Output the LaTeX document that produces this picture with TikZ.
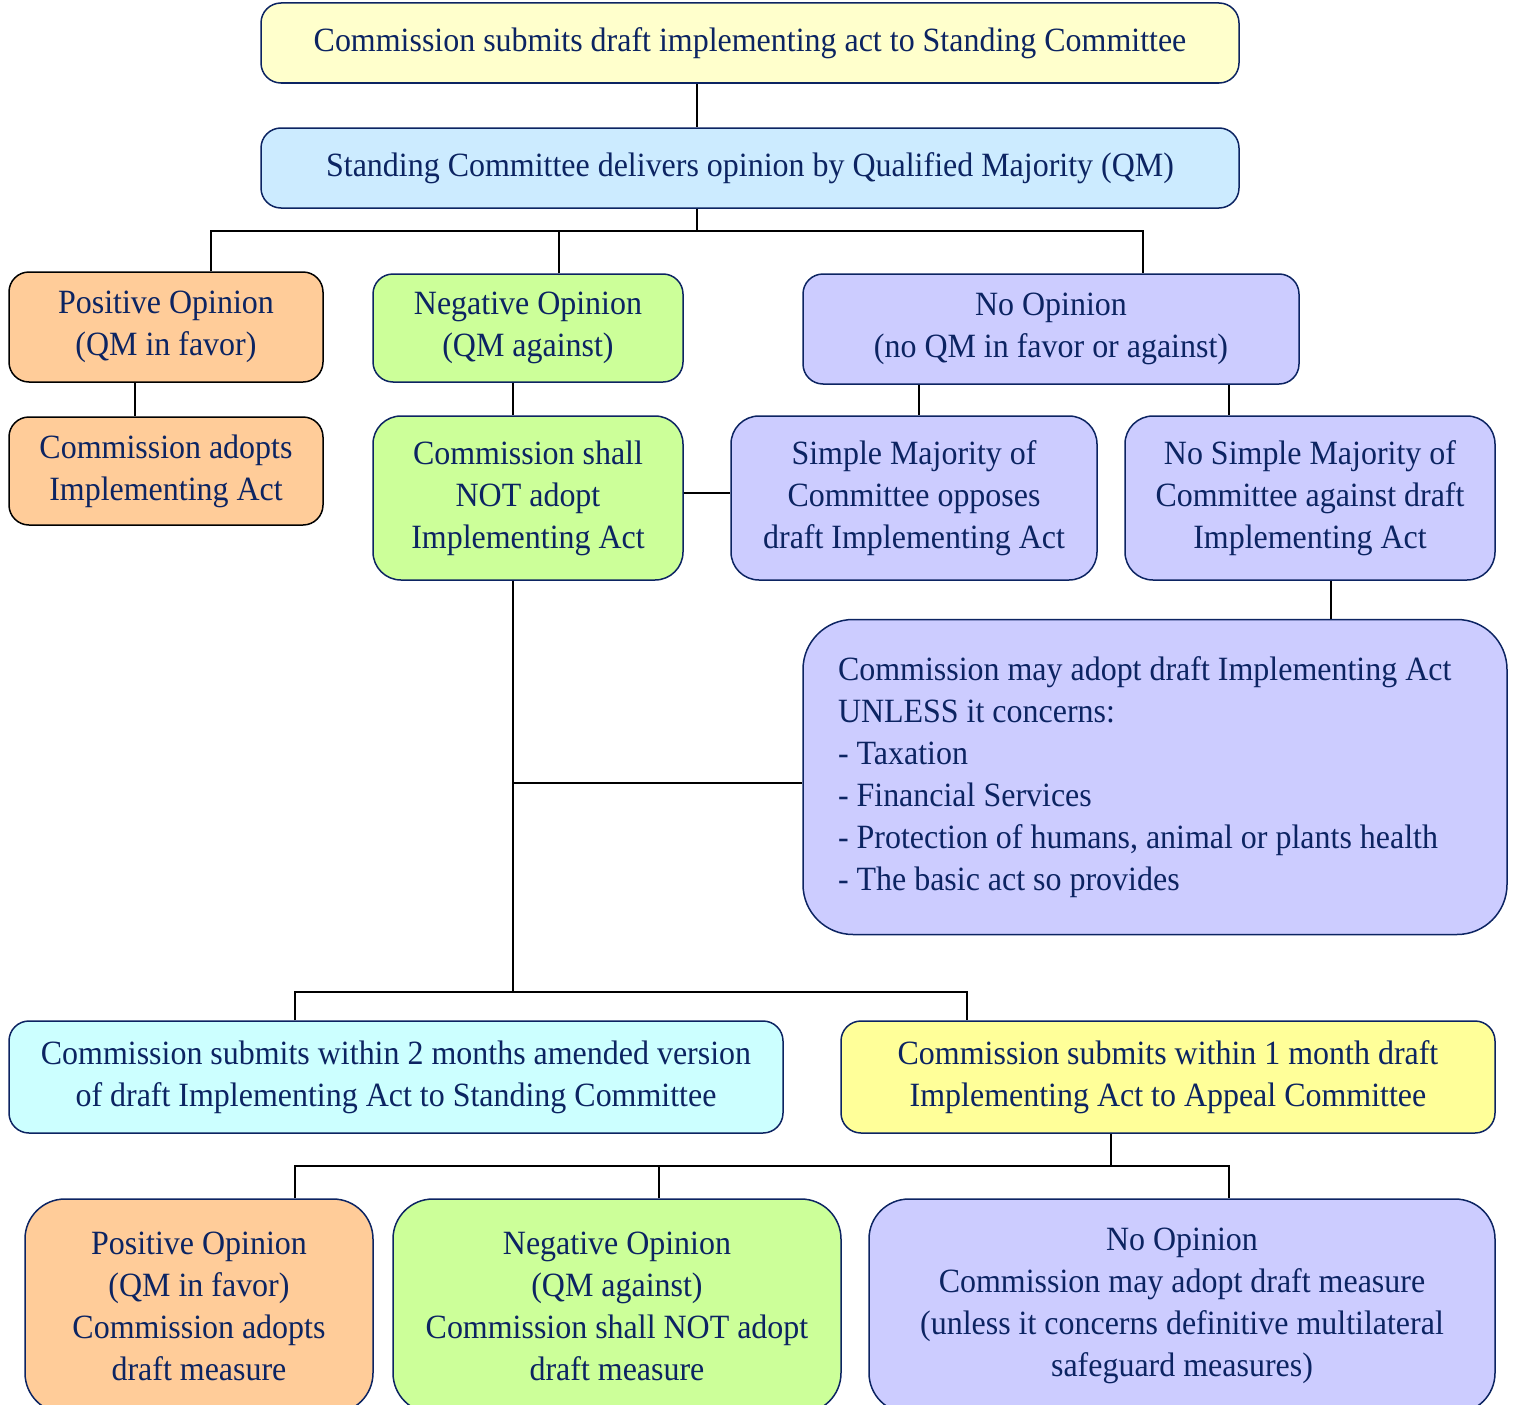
\documentclass[tikz,border=0pt]{standalone}
\usepackage{fontspec}
\setmainfont{Liberation Serif}[FakeStretch=0.94]
\usepackage{xcolor}
\definecolor{navy}{RGB}{12,36,98}
\definecolor{paleyellow}{HTML}{FFFFCC}
\definecolor{paleblue}{HTML}{CCEBFF}
\definecolor{paleorange}{HTML}{FFCC99}
\definecolor{palegreen}{HTML}{CCFF99}
\definecolor{palelilac}{HTML}{CCCCFF}
\definecolor{palecyan}{HTML}{CCFFFF}
\definecolor{lemon}{HTML}{FFFF99}
\tikzset{
  box/.style={draw=navy, line width=1.5pt, rounded corners=20pt, text=navy,
    align=center, inner sep=0pt, font=\fontsize{34}{42}\selectfont},
  link/.style={black, line width=1.5pt}
}

\begin{document}
\begin{tikzpicture}[x=1pt, y=-1pt]
\useasboundingbox (0,0) rectangle (1518,1405);
\node[box, fill=paleyellow, minimum width=978, minimum height=80] (top) at (750,43)
  {Commission submits draft implementing act to Standing Committee};
\node[box, fill=paleblue, minimum width=978, minimum height=80] (stand) at (750,168)
  {Standing Committee delivers opinion by Qualified Majority (QM)};
\node[box, draw=black, fill=paleorange, minimum width=314, minimum height=110] (pos1) at (166,327)
  {Positive Opinion\\(QM in favor)};
\node[box, fill=palegreen, minimum width=310, minimum height=108] (neg1) at (528,328)
  {Negative Opinion\\(QM against)};
\node[box, fill=palelilac, minimum width=496, minimum height=110] (noop1) at (1051,329)
  {No Opinion\\(no QM in favor or against)};
\node[box, draw=black, fill=paleorange, minimum width=314, minimum height=108] (posadopt) at (166,471)
  {Commission adopts\\Implementing Act};
\node[box, fill=palegreen, minimum width=310, minimum height=164, rounded corners=28pt] (negnot) at (528,498)
  {Commission shall\\NOT adopt\\Implementing Act};
\node[box, fill=palelilac, minimum width=366, minimum height=164, rounded corners=28pt] (simple) at (914,498)
  {Simple Majority of\\Committee opposes\\draft Implementing Act};
\node[box, fill=palelilac, minimum width=370, minimum height=164, rounded corners=28pt] (nosimple) at (1310,498)
  {No Simple Majority of\\Committee against draft\\Implementing Act};
\node[box, fill=palelilac, minimum width=704, minimum height=315, rounded corners=50pt,
  align=flush left, text width=634] (unless) at (1155,777)
  {Commission may adopt draft Implementing Act\\UNLESS it concerns:\\- Taxation\\- Financial Services\\- Protection of humans, animal or plants health\\- The basic act so provides};
\node[box, fill=palecyan, minimum width=774, minimum height=112] (amended) at (396,1077)
  {Commission submits within 2 months amended version\\of draft Implementing Act to Standing Committee};
\node[box, fill=lemon, minimum width=654, minimum height=112] (appeal) at (1168,1077)
  {Commission submits within 1 month draft\\Implementing Act to Appeal Committee};
\node[box, fill=paleorange, minimum width=348, minimum height=214, rounded corners=40pt] (pos2) at (199,1306)
  {Positive Opinion\\(QM in favor)\\Commission adopts\\draft measure};
\node[box, fill=palegreen, minimum width=448, minimum height=214, rounded corners=40pt] (neg2) at (617,1306)
  {Negative Opinion\\(QM against)\\Commission shall NOT adopt\\draft measure};
\node[box, fill=palelilac, minimum width=626, minimum height=214, rounded corners=40pt] (noop2) at (1182,1306)
  {No Opinion\\Commission may adopt draft measure\\(unless it concerns definitive multilateral\\safeguard measures)};

% first level
\draw[link] ([xshift=-53pt]top.south) -- ([xshift=-53pt]stand.north);
\draw[link] ([xshift=-53pt]stand.south) -- ++(0,22) coordinate (bus1);
\draw[link] ([xshift=45pt]pos1.north) |- (bus1) -| ([xshift=92pt]noop1.north);
\draw[link] ([xshift=31pt]neg1.north) -- ([xshift=31pt]neg1.north |- bus1);

% second level
\draw[link] ([xshift=-31pt]pos1.south) -- ([xshift=-31pt]posadopt.north);
\draw[link] ([xshift=-15pt]neg1.south) -- ([xshift=-15pt]negnot.north);
\draw[link] ([xshift=-132pt]noop1.south) -- ([xshift=-132pt]noop1.south |- simple.north);
\draw[link] ([xshift=178pt]noop1.south) -- ([xshift=178pt]noop1.south |- nosimple.north);
\draw[link] ([yshift=5pt]negnot.east) -- ([yshift=5pt]simple.west);
\draw[link] ([xshift=21pt]nosimple.south) -- ([xshift=21pt]nosimple.south |- unless.north);

% back to the committees
\draw[link] ([xshift=-15pt]negnot.south) -- ++(0,411) coordinate (bus2);
\draw[link] ([yshift=-6pt]unless.west) -- ([yshift=-6pt]unless.west -| bus2);
\draw[link] ([xshift=-101pt]amended.north) |- (bus2) -| ([xshift=-201pt]appeal.north);

% appeal committee
\draw[link] ([xshift=-57pt]appeal.south) -- ++(0,32) coordinate (bus3);
\draw[link] ([xshift=96pt]pos2.north) |- (bus3) -| ([xshift=47pt]noop2.north);
\draw[link] ([xshift=42pt]neg2.north) -- ([xshift=42pt]neg2.north |- bus3);
\end{tikzpicture}
\end{document}
